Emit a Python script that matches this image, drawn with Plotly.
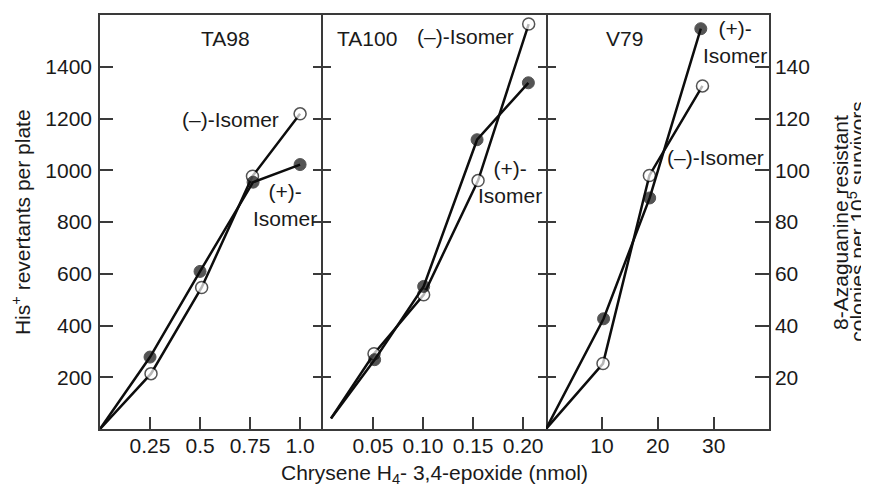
import plotly.graph_objects as go

# ---- data ----
ta98_dose_plus = [0, 0.25, 0.5, 0.765, 1.0]
ta98_plus = [0, 278, 609, 954, 1022]
ta98_dose_minus = [0, 0.255, 0.508, 0.762, 1.0]
ta98_minus = [0, 214, 547, 977, 1218]

ta100_dose_plus = [0.008, 0.0516, 0.1006, 0.154, 0.2053]
ta100_plus = [41, 268, 551, 1118, 1338]
ta100_dose_minus = [0.008, 0.051, 0.1006, 0.155, 0.2056]
ta100_minus = [41, 291, 519, 960, 1565]

v79_dose_plus = [0, 10.3, 18.55, 27.7]
v79_plus = [0, 42.6, 89.3, 154.7]
v79_dose_minus = [0, 10.2, 18.5, 28.0]
v79_minus = [0, 25.3, 98, 132.6]

ta98_ticks = [0.25, 0.5, 0.75, 1.0]
ta98_ticktext = ["0.25", "0.5", "0.75", "1.0"]
ta100_ticks = [0.05, 0.10, 0.15, 0.20]
ta100_ticktext = ["0.05", "0.10", "0.15", "0.20"]
v79_ticks = [10, 20, 30]
his_ticks = [200, 400, 600, 800, 1000, 1200, 1400]
aza_ticks = [20, 40, 60, 80, 100, 120, 140]

FONT = "Liberation Sans, Arial, Helvetica, sans-serif"
LINE = "#0d0d0d"
AX = "#3a3a3a"
FS = 21

def msize(xs):
    # start-of-line points carry no marker
    return [0 if i == 0 else 12 for i in range(len(xs))]

fig = go.Figure()

def add_pair(xp, yp, xm, ym, xa, ya):
    fig.add_trace(go.Scatter(x=xm, y=ym, mode="lines+markers", xaxis=xa, yaxis=ya,
                             line=dict(color=LINE, width=2.5),
                             marker=dict(size=msize(xm), color="white",
                                         line=dict(color=LINE, width=1.5)),
                             showlegend=False))
    fig.add_trace(go.Scatter(x=xp, y=yp, mode="lines+markers", xaxis=xa, yaxis=ya,
                             line=dict(color=LINE, width=2.5),
                             marker=dict(size=msize(xp), color=LINE,
                                         line=dict(color=LINE, width=1)),
                             showlegend=False))

add_pair(ta98_dose_plus, ta98_plus, ta98_dose_minus, ta98_minus, "x", "y")
add_pair(ta100_dose_plus, ta100_plus, ta100_dose_minus, ta100_minus, "x2", "y2")
add_pair(v79_dose_plus, v79_plus, v79_dose_minus, v79_minus, "x3", "y3")
# empty trace to host the overlay axis used for the inner divider ticks
fig.add_trace(go.Scatter(x=[], y=[], xaxis="x2", yaxis="y4", showlegend=False))

tickfont = dict(family=FONT, size=FS, color="#1a1a1a")
xcommon = dict(showline=True, linecolor=AX, linewidth=1.5, mirror=True,
               ticks="inside", ticklen=12, tickwidth=1.5, tickcolor=AX,
               showgrid=False, zeroline=False, tickfont=tickfont,
               ticklabelstandoff=-3)
ycommon = dict(showline=True, linecolor=AX, linewidth=1.5,
               tickwidth=1.5, tickcolor=AX, showgrid=False, zeroline=False,
               tickfont=tickfont)

# page body has an 8px margin, so the figure is 8px smaller and shifted
fig.update_layout(
    width=861, height=479,
    margin=dict(l=92, r=100, t=5, b=58),
    paper_bgcolor="white", plot_bgcolor="white",
    font=dict(family=FONT, size=FS, color="#1a1a1a"),
    xaxis=dict(domain=[0, 1/3], range=[0, 1.1145], tickvals=ta98_ticks,
               ticktext=ta98_ticktext, anchor="y", **xcommon),
    xaxis2=dict(domain=[1/3, 2/3], range=[0, 0.2229], tickvals=ta100_ticks,
                ticktext=ta100_ticktext, anchor="y2", **xcommon),
    xaxis3=dict(domain=[2/3, 1], range=[0, 39.9], tickvals=v79_ticks,
                anchor="y3", **xcommon),
    yaxis=dict(range=[0, 1600], anchor="x", side="left", ticks="inside",
               ticklen=13, tickvals=his_ticks, ticklabelstandoff=2, **ycommon),
    yaxis2=dict(range=[0, 1600], anchor="x2", side="left", ticks="outside",
                ticklen=8, tickvals=his_ticks, showticklabels=False,
                mirror="ticks", **ycommon),
    yaxis4=dict(range=[0, 1600], anchor="x2", overlaying="y2", side="left",
                ticks="inside", ticklen=8, tickvals=his_ticks,
                showticklabels=False, mirror="ticks", **ycommon),
    yaxis3=dict(range=[0, 160], anchor="x3", side="right", ticks="inside",
                ticklen=14, tickvals=aza_ticks, **ycommon),
)

afont = dict(family=FONT, size=FS, color="#1a1a1a")
notes = [
    ("x", "y", 0.625, 1508, "TA98"),
    ("x", "y", 0.65, 1196, "(–)-Isomer"),
    ("x", "y", 0.925, 867, "(+)-<br>Isomer"),
    ("x2", "y2", 0.044, 1508, "TA100"),
    ("x2", "y2", 0.1423, 1515, "(–)-Isomer"),
    ("x2", "y2", 0.1873, 954, "(+)-<br>Isomer"),
    ("x3", "y3", 14.0, 150.8, "V79"),
    ("x3", "y3", 33.9, 149.6, "(+)-<br>Isomer"),
    ("x3", "y3", 30.4, 105, "(–)-Isomer"),
]
for xr, yr, xv, yv, t in notes:
    fig.add_annotation(x=xv, y=yv, xref=xr, yref=yr, text=t, showarrow=False,
                       font=afont, align="center", xanchor="center", yanchor="middle")

# axis titles (plot area: 669 x 416 px)
fig.add_annotation(xref="paper", yref="paper", x=0.5, y=-0.108,
                   text="Chrysene H<sub>4</sub>- 3,4-epoxide (nmol)",
                   showarrow=False, font=afont, xanchor="center", yanchor="middle")
fig.add_annotation(xref="paper", yref="paper", x=-0.118, y=0.5,
                   text="His<sup>+</sup> revertants per plate", textangle=-90,
                   showarrow=False, font=afont, xanchor="center", yanchor="middle")
fig.add_annotation(xref="paper", yref="paper", x=1.106, y=0.5,
                   text="8-Azaguanine resistant",
                   textangle=-90, showarrow=False, font=afont, xanchor="center",
                   yanchor="middle")
fig.add_annotation(xref="paper", yref="paper", x=1.131, y=0.5,
                   text="colonies per 10<sup>5</sup> survivors",
                   textangle=-90, showarrow=False, font=afont, xanchor="center",
                   yanchor="middle")

fig.write_html("out.html")
